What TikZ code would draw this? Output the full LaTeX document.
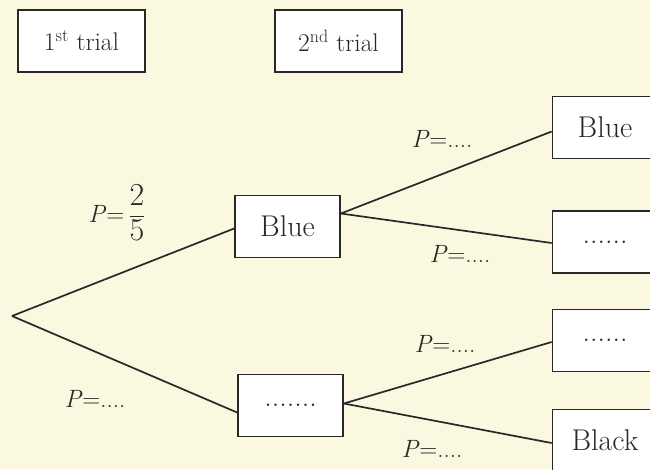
\documentclass[tikz,border=0pt]{standalone}
\usepackage{amsmath}
\definecolor{bgcream}{RGB}{251,248,224}
\definecolor{ink}{RGB}{40,40,40}
\begin{document}
\begin{tikzpicture}[x=1pt,y=-1pt,
  box/.style={draw=ink,line width=1.7pt,fill=white,minimum width=105pt,minimum height=62pt,inner sep=0pt,font=\fontsize{30}{34}\selectfont,text=ink},
  head/.style={box,minimum width=127pt,font=\fontsize{25.5}{30}\selectfont},
  conn/.style={draw=ink,line width=1.7pt},
  plab/.style={font=\fontsize{25}{30}\selectfont,text=ink,inner sep=0pt,anchor=base}]
\fill[bgcream] (0,0) rectangle (650,469);
\clip (0,0) rectangle (650,469);
\useasboundingbox (0,0) rectangle (650,469);
% headers
\node[head] (t1) at (81.5,41) {1\textsuperscript{st} trial};
\node[head] (t2) at (338.5,41) {2\textsuperscript{nd} trial};
% first level
\coordinate (root) at (12,316);
\node[box] (b1) at (287.5,226.5) {Blue};
\node[box] (b2) at (290.5,405.5) {.......};
% second level
\node[box] (c1) at (605,127.5) {Blue};
\node[box] (c2) at (605,242) {......};
\node[box] (c3) at (605,340.5) {......};
\node[box] (c4) at (605,440.5) {Black};
% connectors
\draw[conn] (root) -- ([yshift=-2pt]b1.west);
\draw[conn] (root) -- ([yshift=-7pt]b2.west);
\draw[conn] ([yshift=13pt]b1.east) -- ([yshift=-4pt]c1.west);
\draw[conn] ([yshift=13pt]b1.east) -- ([yshift=-1pt]c2.west);
\draw[conn] ([yshift=2pt]b2.east) -- ([yshift=-1.5pt]c3.west);
\draw[conn] ([yshift=2pt]b2.east) -- ([yshift=-2.5pt]c4.west);
% labels
\node[font=\fontsize{25}{30}\selectfont,text=ink,inner sep=0pt] (p1) at (117,213) {$\text{\textit{P}=}\,\dfrac{\text{\fontsize{32}{36}\selectfont 2}}{\text{\fontsize{32}{36}\selectfont 5}}$};
\node[plab] (p2) at (95,407) {\textit{P}=....};
\node[plab] (p3) at (442,147) {\textit{P}=....};
\node[plab] (p4) at (460,262) {\textit{P}=....};
\node[plab] (p5) at (445,352) {\textit{P}=....};
\node[plab] (p6) at (432,457) {\textit{P}=....};
\end{tikzpicture}
\end{document}
